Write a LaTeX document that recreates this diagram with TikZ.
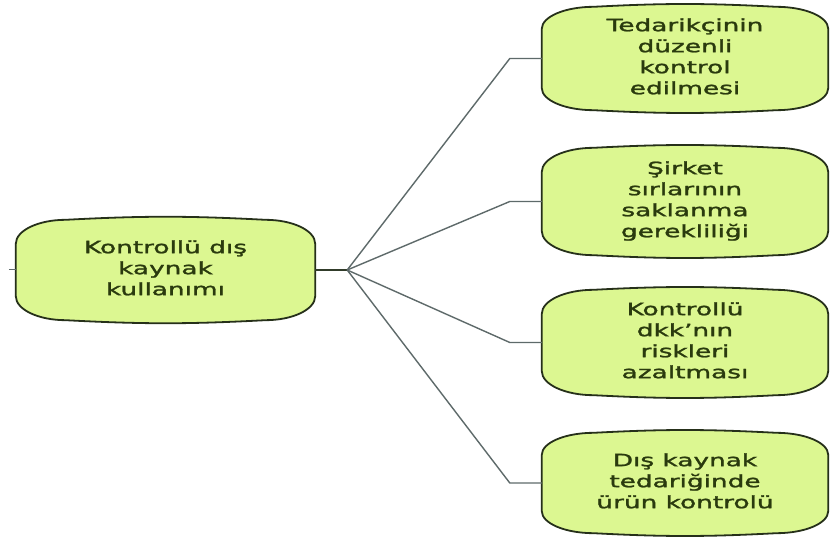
\documentclass[tikz,border=0pt]{standalone}
\usepackage{graphicx}
\usepackage{fontspec}
\setmainfont{DejaVu Sans}[FakeBold=1.3]
\usetikzlibrary{calc}
\pgfdeclarelayer{background}
\pgfsetlayers{background,main}

\definecolor{boxfill}{HTML}{DCF791}
\definecolor{boxedge}{HTML}{26301A}
\definecolor{boxtext}{HTML}{2A3A0E}
\definecolor{linkgray}{HTML}{5E6A6A}

% horizontally widened, centred multi-line label
\newcommand{\widetext}[1]{\scalebox{1.55}[1]{\begin{tabular}{@{}c@{}}#1\end{tabular}}}

% rounded outline with elliptical corners behind a named node
\newcommand{\ovalbox}[3]{%
  \begin{pgfonlayer}{background}
    \draw[boxline]
      ($(#1.north west)+(#2,0pt)$) to[bend left=3] ($(#1.north east)+(-#2,0pt)$)
      arc[start angle=90,end angle=0,x radius=#2,y radius=#3]
      -- ($(#1.south east)+(0pt,#3)$)
      arc[start angle=0,end angle=-90,x radius=#2,y radius=#3]
      to[bend left=3] ($(#1.south west)+(#2,0pt)$)
      arc[start angle=270,end angle=180,x radius=#2,y radius=#3]
      -- ($(#1.north west)+(0pt,-#3)$)
      arc[start angle=180,end angle=90,x radius=#2,y radius=#3]
      -- cycle;
  \end{pgfonlayer}}

\tikzset{
  x=1pt, y=1pt,
  boxline/.style={draw=boxedge, fill=boxfill, line width=1.8pt},
  basebox/.style={rectangle, draw=none, inner sep=0pt, text=boxtext,
    font=\fontsize{17}{21}\selectfont},
  rootbox/.style={basebox, minimum width=299pt, minimum height=100pt},
  leafbox/.style={basebox, minimum width=286pt},
  link/.style={draw=linkgray, line width=1.4pt},
  trunk/.style={draw=boxedge!80!linkgray, line width=2.8pt},
}

\begin{document}
\begin{tikzpicture}
  \useasboundingbox (0,0) rectangle (830,536);
  \begin{pgfonlayer}{background}
    \fill[white] (0,0) rectangle (830,536);
  \end{pgfonlayer}

  % central item
  \node[rootbox] (root) at (165.5,266) {\widetext{Kontrollü dış\\kaynak\\kullanımı}};
  \ovalbox{root}{50pt}{24pt}

  % four sub-items
  \node[leafbox, minimum height=103pt] (t1) at (685,477.5)
    {\widetext{Tedarikçinin\\düzenli\\kontrol\\edilmesi}};
  \node[leafbox, minimum height=107pt] (t2) at (685,334.5)
    {\widetext{Şirket\\sırlarının\\saklanma\\gerekliliği}};
  \node[leafbox, minimum height=105pt] (t3) at (685,193.5)
    {\widetext{Kontrollü\\dkk'nın\\riskleri\\azaltması}};
  \node[leafbox, minimum height=100pt] (t4) at (685,53)
    {\widetext{Dış kaynak\\tedariğinde\\ürün kontrolü}};
  \ovalbox{t1}{52pt}{22pt}
  \ovalbox{t2}{52pt}{24pt}
  \ovalbox{t3}{52pt}{24pt}
  \ovalbox{t4}{52pt}{22pt}

  % connectors
  \coordinate (hub) at ($(root.east)+(32pt,0pt)$);
  \coordinate (stub) at ($(root.west)+(-7pt,0pt)$);
  \draw[link, line width=1pt] (stub) -- (root.west);
  \draw[trunk] (root.east) -- (hub);
  \foreach \t in {t1,t2,t3,t4}
    \draw[link, line join=round] (hub) -- ($(\t.west)+(-32pt,0pt)$) -- (\t.west);
\end{tikzpicture}
\end{document}
